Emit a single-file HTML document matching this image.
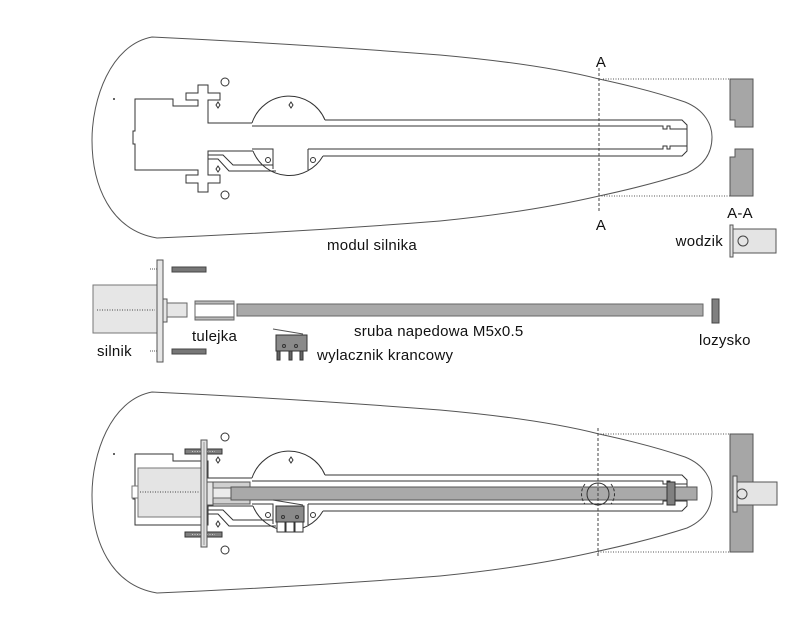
<!DOCTYPE html>
<html><head><meta charset="utf-8"><style>
html,body{margin:0;padding:0;background:#fff;}
svg{display:block;}
text{font-family:"Liberation Sans",Arial,sans-serif;font-size:15px;letter-spacing:0.25px;fill:#111;}
</style></head><body>
<svg width="800" height="644" viewBox="0 0 800 644" xmlns="http://www.w3.org/2000/svg">
<g fill="none" stroke="#333" stroke-width="1">

<!-- ============ TOP FIGURE ============ -->
<g id="topfig">
  <path d="M152,37 Q300,44 440,55 Q540,64 599,79 Q650,90 685,102 C705,110 712,125 712,137 C712,152 705,165 687,173 Q650,185 599,196 Q530,212 440,221 Q300,232 157,238 C110,230 92,185 92,140 C92,100 110,45 152,37 Z" stroke="#555"/>
  <path d="M252,123 L208,123 L208,100 L220,100 L220,93 L208,93 L208,85 L198,85 L198,93 L186,93 L186,100 L198,100 L198,106 L173,106 L173,99 L135,99 L135,131 L133,131 L133,144 L135,144 L135,170 L198,170 L198,175 L186,175 L186,183 L198,183 L198,192 L208,192 L208,183 L220,183 L220,175 L208,175 L208,151 L253,151"/>
  <path d="M252,123 A39,39 0 0 1 325,120"/>
  <path d="M253,151 A39,39 0 0 0 323,156"/>
  <path d="M325,120 L682,120 L687,125 L687,151 L682,156 L323,156"/>
  <path d="M252,126 L663,126 L663,129 L667,129 L667,126 L670,126 L670,129 L687,129"/>
  <path d="M308,149 L663,149 L663,146 L667,146 L667,149 L670,149 L670,146 L687,146"/>
  <path d="M252,149 L273,149 L273,169"/>
  <path d="M308,170 L308,149"/>
  <path d="M208,155 L223,155 L233,165 L273,165"/>
  <path d="M208,159 L218,159 L229,171 L276,171"/>
  <circle cx="225" cy="82" r="4"/>
  <circle cx="225" cy="195" r="4"/>
  <circle cx="268" cy="160" r="2.5"/>
  <circle cx="313" cy="160" r="2.5"/>
  <path d="M218,102 L220,105 L218,108 L216,105 Z"/>
  <path d="M218,166 L220,169 L218,172 L216,169 Z"/>
  <path d="M291,102 L293,105 L291,108 L289,105 Z"/>
  <circle cx="114" cy="99" r="0.5"/>
</g>

<!-- section A-A top -->
<line x1="599" y1="68" x2="599" y2="212" stroke="#444" stroke-dasharray="3,2"/>
<line x1="603" y1="79" x2="730" y2="79" stroke="#555" stroke-dasharray="1,1.5"/>
<line x1="599" y1="196" x2="730" y2="196" stroke="#555" stroke-dasharray="1,1.5"/>
<path d="M730,79 L753,79 L753,127 L735,127 L735,120 L730,120 Z" fill="#a6a6a6" stroke="#555"/>
<path d="M730,157 L735,157 L735,149 L753,149 L753,196 L730,196 Z" fill="#a6a6a6" stroke="#555"/>

<!-- wodzik -->
<rect x="733" y="229" width="43" height="24" fill="#e4e4e4" stroke="#555"/>
<rect x="730" y="225" width="3" height="32" fill="#e4e4e4" stroke="#555"/>
<circle cx="743" cy="241" r="5" stroke="#444"/>

<!-- ============ MIDDLE ROW ============ -->
<rect x="93" y="285" width="64" height="48" fill="#e6e6e6" stroke="#777"/>
<line x1="97" y1="310" x2="155" y2="310" stroke="#444" stroke-dasharray="1,1.5"/>
<rect x="157" y="260" width="6" height="102" fill="#e6e6e6" stroke="#555"/>
<line x1="150" y1="269" x2="157" y2="269" stroke="#555" stroke-dasharray="1,1"/>
<line x1="150" y1="351" x2="157" y2="351" stroke="#555" stroke-dasharray="1,1"/>
<rect x="163" y="299" width="4" height="23" fill="#e6e6e6" stroke="#555"/>
<rect x="167" y="303" width="20" height="14" fill="#e6e6e6" stroke="#666"/>
<rect x="172" y="267" width="34" height="5" fill="#777" stroke="#444"/>
<rect x="172" y="349" width="34" height="5" fill="#777" stroke="#444"/>
<rect x="195" y="301" width="39" height="19" fill="#fff" stroke="#666"/>
<rect x="195" y="301" width="39" height="3" fill="#bbb" stroke="#666"/>
<rect x="195" y="317" width="39" height="3" fill="#bbb" stroke="#666"/>
<rect x="237" y="304" width="466" height="12" fill="#a9a9a9" stroke="#666"/>
<rect x="712" y="299" width="7" height="24" fill="#808080" stroke="#444"/>
<line x1="273" y1="329" x2="303" y2="334" stroke="#555"/>
<rect x="276" y="335" width="31" height="16" fill="#8a8a8a" stroke="#333"/>
<circle cx="284" cy="346" r="1.5"/>
<circle cx="296" cy="346" r="1.5"/>
<rect x="277" y="351" width="3" height="9" fill="#666" stroke="#333"/>
<rect x="289" y="351" width="3" height="9" fill="#666" stroke="#333"/>
<rect x="300" y="351" width="3" height="9" fill="#666" stroke="#333"/>

<!-- ============ BOTTOM FIGURE ============ -->
<g transform="translate(0,355)">
  <path d="M152,37 Q300,44 440,55 Q540,64 599,79 Q650,90 685,102 C705,110 712,125 712,137 C712,152 705,165 687,173 Q650,185 599,196 Q530,212 440,221 Q300,232 157,238 C110,230 92,185 92,140 C92,100 110,45 152,37 Z" stroke="#555"/>
  <path d="M252,123 L208,123 L208,106 L173,106 L173,99 L135,99 L135,131 L133,131 L133,144 L135,144 L135,170 L208,170 L208,151 L253,151"/>
  <path d="M252,123 A39,39 0 0 1 325,120"/>
  <path d="M253,151 A39,39 0 0 0 323,156"/>
  <path d="M325,120 L682,120 L687,125 L687,151 L682,156 L323,156"/>
  <path d="M252,126 L663,126 L663,129 L667,129 L667,126 L670,126 L670,129 L687,129"/>
  <path d="M308,149 L663,149 L663,146 L667,146 L667,149 L670,149 L670,146 L687,146"/>
  <path d="M252,149 L273,149 L273,169"/>
  <path d="M308,170 L308,149"/>
  <path d="M208,155 L223,155 L233,165 L273,165"/>
  <path d="M208,159 L218,159 L229,171 L276,171"/>
  <circle cx="225" cy="82" r="4"/>
  <circle cx="225" cy="195" r="4"/>
  <circle cx="268" cy="160" r="2.5"/>
  <circle cx="313" cy="160" r="2.5"/>
  <path d="M218,102 L220,105 L218,108 L216,105 Z"/>
  <path d="M218,166 L220,169 L218,172 L216,169 Z"/>
  <path d="M291,102 L293,105 L291,108 L289,105 Z"/>
  <circle cx="114" cy="99" r="0.5"/>
</g>
<rect x="138" y="468" width="64" height="49" fill="#e4e4e4" stroke="#777"/>
<rect x="132" y="486" width="6" height="12" fill="#fff" stroke="#777"/>
<line x1="140" y1="492" x2="200" y2="492" stroke="#444" stroke-dasharray="1,1.5"/>
<rect x="185" y="449" width="37" height="5" fill="#808080" stroke="#333"/>
<rect x="185" y="532" width="37" height="5" fill="#808080" stroke="#333"/>
<line x1="192" y1="451.5" x2="215" y2="451.5" stroke="#ccc" stroke-dasharray="1,1.5"/>
<line x1="192" y1="534.5" x2="215" y2="534.5" stroke="#ccc" stroke-dasharray="1,1.5"/>
<rect x="201" y="440" width="6" height="107" fill="#e0e0e0" stroke="#555"/>
<line x1="204" y1="442" x2="204" y2="545" stroke="#999"/>
<rect x="207" y="482" width="6" height="23" fill="#e6e6e6" stroke="#555"/>
<rect x="213" y="482" width="37" height="22" fill="#d0d0d0" stroke="#555"/>
<rect x="213" y="488" width="18" height="10" fill="#ececec" stroke="#666"/>
<rect x="231" y="487" width="466" height="13" fill="#a9a9a9" stroke="#555"/>
<line x1="273" y1="500" x2="303" y2="505" stroke="#444"/>
<rect x="276" y="506" width="28" height="16" fill="#8a8a8a" stroke="#333"/>
<circle cx="283" cy="517" r="1.5"/>
<circle cx="297" cy="517" r="1.5"/>
<rect x="277" y="522" width="8" height="10" fill="#fff" stroke="#333"/>
<rect x="286" y="522" width="8" height="10" fill="#fff" stroke="#333"/>
<rect x="295" y="522" width="8" height="10" fill="#fff" stroke="#333"/>
<circle cx="598" cy="494" r="11" stroke="#333"/>
<path d="M585,484 A16,16 0 0 0 585,504" stroke="#333" stroke-dasharray="3,2"/>
<path d="M611,484 A16,16 0 0 1 611,504" stroke="#333" stroke-dasharray="3,2"/>
<rect x="667" y="482" width="8" height="23" fill="#808080" stroke="#333"/>
<line x1="598" y1="428" x2="598" y2="558" stroke="#444" stroke-dasharray="3,2"/>
<line x1="598" y1="434" x2="730" y2="434" stroke="#555" stroke-dasharray="1,1.5"/>
<line x1="598" y1="552" x2="730" y2="552" stroke="#555" stroke-dasharray="1,1.5"/>
<rect x="730" y="434" width="23" height="118" fill="#a6a6a6" stroke="#555"/>
<rect x="733" y="476" width="4" height="36" fill="#e4e4e4" stroke="#555"/>
<rect x="737" y="482" width="40" height="23" fill="#e4e4e4" stroke="#555"/>
<circle cx="742" cy="494" r="5" stroke="#444"/>
</g>

<text x="601" y="67" text-anchor="middle">A</text>
<text x="601" y="230" text-anchor="middle">A</text>
<text x="740" y="218" text-anchor="middle">A-A</text>
<text x="723" y="246" text-anchor="end">wodzik</text>
<text x="327" y="250">modul silnika</text>
<text x="97" y="356">silnik</text>
<text x="192" y="341">tulejka</text>
<text x="354" y="336">sruba napedowa M5x0.5</text>
<text x="317" y="360">wylacznik krancowy</text>
<text x="699" y="345">lozysko</text>
</svg>
</body></html>
